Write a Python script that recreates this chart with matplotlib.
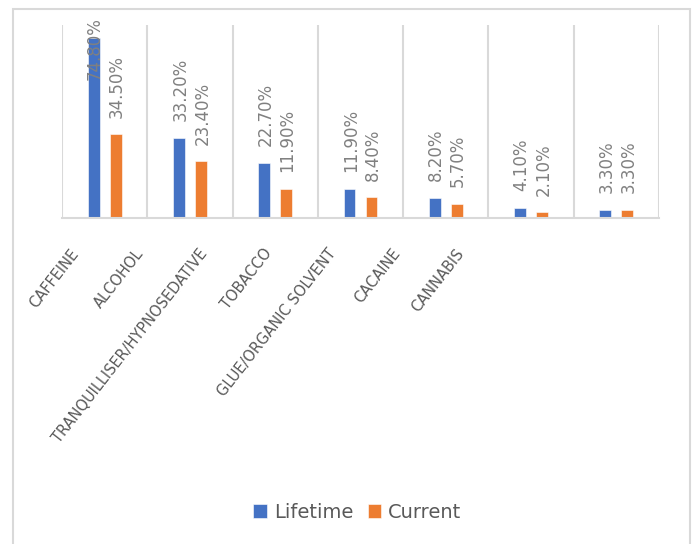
import matplotlib
matplotlib.use("Agg")
import matplotlib.pyplot as plt
import matplotlib.transforms as mtransforms
from matplotlib.patches import Rectangle
import numpy as np

categories = ["CAFFEINE", "ALCOHOL", "TRANQUILLISER/HYPNOSEDATIVE", "TOBACCO",
              "GLUE/ORGANIC SOLVENT", "CACAINE", "CANNABIS"]
lifetime = [74.8, 33.2, 22.7, 11.9, 8.2, 4.1, 3.3]
current = [34.5, 23.4, 11.9, 8.4, 5.7, 2.1, 3.3]
series_names = ["Lifetime", "Current"]

BLUE = "#4472C4"
ORANGE = "#ED7D31"
GRID = "#d9d9d9"
LABEL_GRAY = "#808080"
TEXT_GRAY = "#595959"

W, H, DPI = 694, 544, 100
fig = plt.figure(figsize=(W / DPI, H / DPI), dpi=DPI)
fig.patch.set_facecolor("white")

# outer chart border
fig.patches.append(Rectangle((13 / W, -0.05), (690 - 13) / W, 1.05 - 9 / H,
                             transform=fig.transFigure, fill=False,
                             edgecolor=GRID, lw=1.5))

left, right = 62 / W, 659 / W
bottom, top = 1 - 217.5 / H, 1 - 25 / H
ax = fig.add_axes([left, bottom, right - left, top - bottom])

x = np.arange(len(categories))
bw = 0.14
off = 0.129
b1 = ax.bar(x - off, lifetime, bw, color=BLUE, edgecolor="white", lw=0.4, label=series_names[0], zorder=3)
b2 = ax.bar(x + off, current, bw, color=ORANGE, edgecolor="white", lw=0.4, label=series_names[1], zorder=3)

ax.set_xlim(-0.5, len(categories) - 0.5)
ax.set_ylim(0, 80)
ax.set_yticks([])
for s in ["top", "left", "right"]:
    ax.spines[s].set_visible(False)
ax.spines["bottom"].set_color(GRID)
ax.spines["bottom"].set_linewidth(1.5)
ax.spines["bottom"].set_zorder(4)

ax.set_xticks(np.arange(-0.5, len(categories), 1.0), minor=True)
ax.grid(True, axis="x", which="minor", color=GRID, lw=1.5, zorder=0)
ax.tick_params(axis="x", which="both", length=0, pad=0)

ax.set_xticks(x)
ax.set_xticklabels(categories, rotation=52, rotation_mode="anchor",
                   ha="right", va="center", fontsize=10.5, color=TEXT_GRAY)
for i, lab in enumerate(ax.get_xticklabels()):
    dx = -28.5 - 21.13 * i
    dy = -33
    lab.set_transform(lab.get_transform() +
                      mtransforms.ScaledTranslation(dx / DPI, dy / DPI, fig.dpi_scale_trans))

# data labels
fig.canvas.draw()
renderer = fig.canvas.get_renderer()
for bars, vals in ((b1, lifetime), (b2, current)):
    for rect, v in zip(bars, vals):
        cx = rect.get_x() + rect.get_width() / 2
        t = ax.annotate(f"{v:.2f}%", (cx, v), xytext=(1, 12), textcoords="offset points",
                        rotation=90, ha="center", va="bottom", fontsize=12,
                        color=LABEL_GRAY, annotation_clip=False, zorder=5)
        bb = t.get_window_extent(renderer)
        top_px = H - bb.y1
        if top_px < 17:
            t.remove()
            # clamp inside the chart area
            disp = ax.transData.transform((cx, v))
            ax.annotate(f"{v:.2f}%", (cx, v), xycoords="data",
                        xytext=(disp[0] + 1, H - 17), textcoords="figure pixels",
                        rotation=90, ha="center", va="top", fontsize=12,
                        color=LABEL_GRAY, annotation_clip=False, zorder=5)

leg = fig.legend(handles=[b1, b2], labels=series_names, loc="center",
                 bbox_to_anchor=(357.5 / W, 1 - 512 / H), ncol=2, frameon=False,
                 fontsize=14, handlelength=0.7, handleheight=0.7,
                 handletextpad=0.35, columnspacing=0.75)
for t in leg.get_texts():
    t.set_color(TEXT_GRAY)

fig.savefig("out.png", dpi=DPI)
